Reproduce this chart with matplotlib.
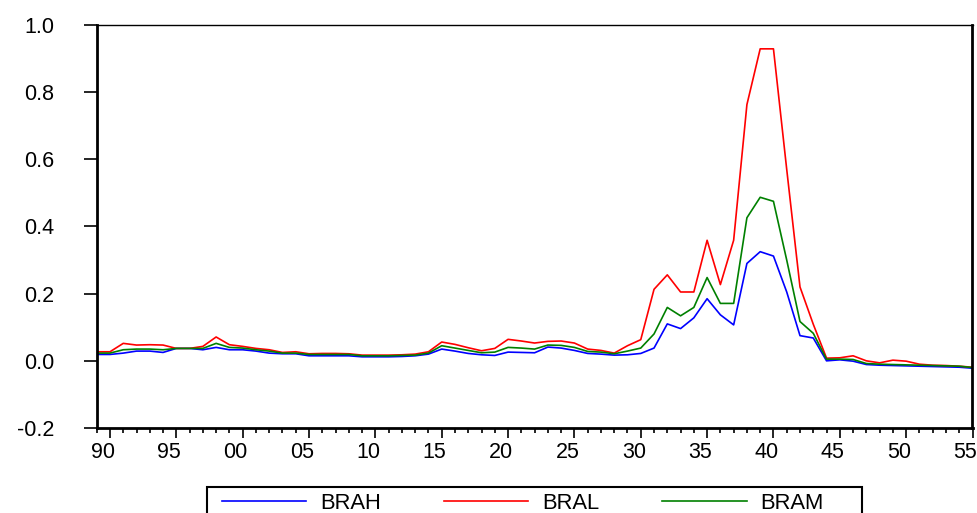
import matplotlib
matplotlib.use('Agg')
import matplotlib.pyplot as plt
from matplotlib.patches import Rectangle
from matplotlib.ticker import FixedLocator, MultipleLocator
from matplotlib.transforms import ScaledTranslation

years = list(range(1989, 2056))

bral = [0.027, 0.027, 0.052, 0.047, 0.048, 0.047, 0.037, 0.037, 0.043, 0.071,
        0.048, 0.043, 0.037, 0.033, 0.025, 0.027, 0.021, 0.022, 0.022, 0.021,
        0.017, 0.017, 0.017, 0.018, 0.020, 0.027, 0.056, 0.049, 0.039, 0.030,
        0.037, 0.064, 0.059, 0.053, 0.058, 0.059, 0.053, 0.035, 0.031, 0.023,
        0.045, 0.063, 0.213, 0.256, 0.205, 0.205, 0.359, 0.227, 0.359, 0.763,
        0.929, 0.929, 0.570, 0.220, 0.109, 0.008, 0.009, 0.015, 0.000, -0.006,
        0.002, -0.001, -0.010, -0.013, -0.014, -0.016, -0.019]

bram = [0.023, 0.023, 0.033, 0.035, 0.035, 0.033, 0.037, 0.037, 0.037, 0.052,
        0.040, 0.038, 0.033, 0.029, 0.023, 0.023, 0.019, 0.019, 0.019, 0.019,
        0.015, 0.015, 0.015, 0.016, 0.017, 0.023, 0.045, 0.038, 0.031, 0.024,
        0.026, 0.040, 0.038, 0.035, 0.047, 0.046, 0.040, 0.028, 0.026, 0.021,
        0.029, 0.038, 0.080, 0.159, 0.134, 0.159, 0.248, 0.171, 0.171, 0.426,
        0.487, 0.475, 0.300, 0.117, 0.082, 0.005, 0.005, 0.004, -0.008, -0.010,
        -0.011, -0.012, -0.013, -0.014, -0.015, -0.016, -0.020]

brah = [0.019, 0.019, 0.023, 0.029, 0.029, 0.025, 0.037, 0.037, 0.033, 0.040,
        0.033, 0.033, 0.029, 0.023, 0.021, 0.021, 0.015, 0.015, 0.015, 0.015,
        0.012, 0.012, 0.012, 0.013, 0.015, 0.020, 0.035, 0.029, 0.022, 0.018,
        0.016, 0.026, 0.025, 0.024, 0.041, 0.038, 0.031, 0.022, 0.020, 0.017,
        0.018, 0.022, 0.038, 0.110, 0.096, 0.128, 0.185, 0.137, 0.107, 0.290,
        0.325, 0.312, 0.205, 0.075, 0.068, 0.000, 0.003, -0.001, -0.011, -0.013,
        -0.014, -0.015, -0.016, -0.017, -0.018, -0.019, -0.022]

label_years = list(range(1990, 2056, 5))
y_ticks = [-0.2, 0.0, 0.2, 0.4, 0.6, 0.8, 1.0]

plt.rcParams['font.family'] = ['Liberation Sans', 'DejaVu Sans']

W, H = 977, 513
fig = plt.figure(figsize=(W / 100, H / 100), dpi=100)
ax = fig.add_axes([96.7 / W, 1 - 428 / H, (972.5 - 96.7) / W, (428 - 25) / H])

ax.plot(years, brah, color='#0000ff', lw=1.2, label='BRAH')
ax.plot(years, bral, color='#ff0000', lw=1.2, label='BRAL')
ax.plot(years, bram, color='#008000', lw=1.2, label='BRAM')

ax.set_xlim(years[0], years[-1])
ax.set_ylim(-0.2, 1.0)

ax.xaxis.set_major_locator(FixedLocator(label_years))
ax.xaxis.set_minor_locator(MultipleLocator(1))
ax.set_xticklabels([str(y)[-2:] for y in label_years])
ax.set_yticks(y_ticks)
ax.set_yticklabels(['%.1f' % v for v in y_ticks])

ax.tick_params(axis='y', direction='out', length=9.5, width=1.2, pad=21, labelsize=15.5)
ax.tick_params(axis='x', which='major', direction='out', length=7.2, width=1.2, pad=3, labelsize=15.5)
ax.tick_params(axis='x', which='minor', direction='out', length=3.6, width=1.2)

# EViews puts the year label a bit left of its tick
shift = ScaledTranslation(-7 / 100, 0, fig.dpi_scale_trans)
for lab in ax.get_xticklabels():
    lab.set_transform(lab.get_transform() + shift)

for side in ['left', 'bottom', 'right']:
    ax.spines[side].set_linewidth(2.0)
ax.spines['top'].set_linewidth(1.0)

# legend box runs off the bottom of the picture, so draw the frame by hand
fig.patches.append(Rectangle((207 / W, 1 - 520 / H), 655 / W, 33 / H,
                             transform=fig.transFigure, fill=False,
                             edgecolor='black', lw=1.5))
fig.legend(loc='upper left', bbox_to_anchor=(222 / W, 1 - 493 / H), ncol=3,
           fontsize=15.8, frameon=False,
           handlelength=3.85, handletextpad=0.64, columnspacing=2.85,
           borderpad=0, borderaxespad=0)

plt.savefig('out.png', dpi=100)
